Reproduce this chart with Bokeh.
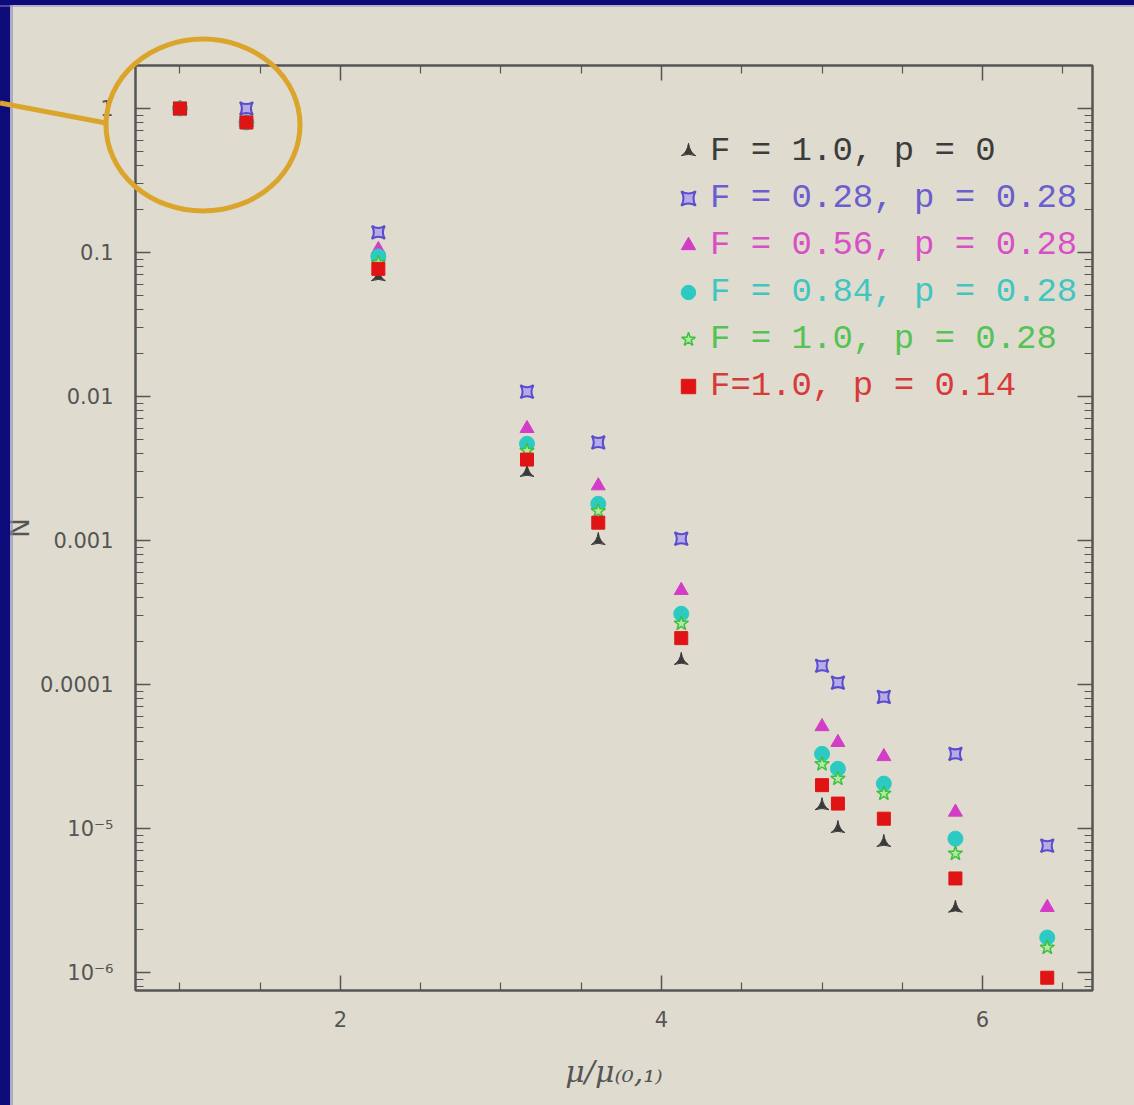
import numpy as np
from bokeh.plotting import figure
from bokeh.models import (Range1d, FixedTicker, LinearAxis, LogAxis, Legend, LegendItem,
                          ColumnDataSource, CustomJSTickFormatter)
from bokeh.embed import file_html
from bokeh.resources import INLINE

W, H = 1134, 1105

# ---------------- data ----------------
mu_ratio = [1.0, 1.414, 2.236, 3.162, 3.606, 4.123, 5.0, 5.099, 5.385, 5.831, 6.403]

series_labels = ["F = 1.0, p = 0", "F = 0.28, p = 0.28", "F = 0.56, p = 0.28",
                 "F = 0.84, p = 0.28", "F = 1.0, p = 0.28", "F=1.0, p = 0.14"]

N_F100_p000 = [1.0, 0.80, 0.068, 0.00297, 0.00100, 0.000147, 1.44e-5, 1.0e-5, 8.0e-6, 2.8e-6, float("nan")]
N_F028_p028 = [1.0, 1.0, 0.138, 0.0108, 0.0048, 0.00103, 1.35e-4, 1.03e-4, 8.2e-5, 3.3e-5, 7.6e-6]
N_F056_p028 = [1.0, 0.80, 0.105, 0.0060, 0.0024, 0.00045, 5.1e-5, 3.96e-5, 3.16e-5, 1.3e-5, 2.83e-6]
N_F084_p028 = [1.0, 0.80, 0.094, 0.0047, 0.0018, 0.00031, 3.3e-5, 2.6e-5, 2.05e-5, 8.5e-6, 1.75e-6]
N_F100_p028 = [1.0, 0.80, 0.085, 0.0042, 0.0016, 0.000265, 2.8e-5, 2.22e-5, 1.75e-5, 6.7e-6, 1.49e-6]
N_F100_p014 = [1.0, 0.80, 0.077, 0.00365, 0.00133, 0.00021, 2.0e-5, 1.49e-5, 1.17e-5, 4.5e-6, 9.2e-7]

series_values = [N_F100_p000, N_F028_p028, N_F056_p028, N_F084_p028, N_F100_p028, N_F100_p014]

x_major_ticks = [2, 4, 6]
x_minor_ticks = [1.0, 1.5, 2.5, 3.0, 3.5, 4.5, 5.0, 5.5, 6.5]
y_major_ticks = [1.0, 0.1, 0.01, 0.001, 0.0001, 1e-5, 1e-6]
y_tick_labels = ["1", "0.1", "0.01", "0.001", "0.0001", "10\u207b\u2075", "10\u207b\u2076"]
x_label = "\u03bc/\u03bc\u208d\u2080,\u2081\u208e"
y_label = "N"

# ---------------- styles ----------------
BG = "#dfdccf"
NAVY = "#0d0a7a"
GOLD = "#dba42b"
AX = "#555555"

marker_styles = [
    dict(marker="triangle_pin", size=14, fill_color="#3a3a3a", line_color="#3a3a3a", line_width=1),
    dict(marker="square_pin", size=13, fill_color="#b4abe8", line_color="#5a4ccc", line_width=2),
    dict(marker="triangle", size=14, fill_color="#d43cc8", line_color="#d43cc8", line_width=1),
    dict(marker="circle", size=15, fill_color="#2dcac4", line_color="#2dcac4", line_width=1),
    dict(marker="star", size=15, fill_color="#b5e8a8", line_color="#3cc23c", line_width=1.5),
    dict(marker="square", size=13, fill_color="#e01414", line_color="#e01414", line_width=1),
]
text_colors = ["#3c3c3c", "#6a5ed0", "#d950c6", "#3fc6c0", "#55c255", "#d83a3a"]

FRAME_L, FRAME_R, FRAME_T, FRAME_B = 135, 1092, 65, 990

p = figure(width=W, height=H,
           x_range=Range1d(0.723, 6.685), y_range=Range1d(7.5e-7, 1.99),
           y_axis_type="log", output_backend="svg", toolbar_location=None,
           min_border_left=FRAME_L, min_border_right=W - FRAME_R,
           min_border_top=FRAME_T, min_border_bottom=H - FRAME_B,
           background_fill_color=BG, border_fill_color=BG)
p.xgrid.visible = False
p.ygrid.visible = False
p.outline_line_color = AX
p.outline_line_width = 2

y_minor = [k * 10.0 ** e for e in range(-7, 1) for k in range(2, 10)]
y_overrides = {v: s for v, s in zip(y_major_ticks, y_tick_labels)}


def style_axis(ax):
    ax.axis_line_color = AX
    ax.axis_line_width = 2
    ax.major_tick_line_color = AX
    ax.minor_tick_line_color = AX
    ax.major_tick_line_width = 1.5
    ax.minor_tick_line_width = 1.2
    ax.major_tick_in = 15
    ax.major_tick_out = 0
    ax.minor_tick_in = 8
    ax.minor_tick_out = 0
    ax.major_label_text_font = "DejaVu Sans"
    ax.major_label_text_font_size = "21px"
    ax.major_label_text_color = "#555555"


# bottom
xa = p.xaxis[0]
xa.ticker = FixedTicker(ticks=x_major_ticks, minor_ticks=x_minor_ticks)
style_axis(xa)
xa.major_label_standoff = 20
xa.axis_label = x_label
xa.axis_label_text_font = "DejaVu Serif"
xa.axis_label_text_font_style = "italic"
xa.axis_label_text_font_size = "30px"
xa.axis_label_text_color = "#555555"
xa.axis_label_standoff = 24
# left
ya = p.yaxis[0]
ya.ticker = FixedTicker(ticks=y_major_ticks, minor_ticks=y_minor)
ya.major_label_overrides = y_overrides
style_axis(ya)
ya.major_label_standoff = 22
ya.axis_label = y_label
ya.axis_label_text_font = "DejaVu Sans"
ya.axis_label_text_font_style = "normal"
ya.axis_label_text_font_size = "26px"
ya.axis_label_text_color = "#555555"
ya.axis_label_standoff = 2

# top & right mirrored axes (ticks only)
top = LinearAxis(ticker=FixedTicker(ticks=x_major_ticks, minor_ticks=x_minor_ticks),
                 formatter=CustomJSTickFormatter(code="return ''"))
style_axis(top)
top.major_label_standoff = 0
p.add_layout(top, "above")
right = LogAxis(ticker=FixedTicker(ticks=y_major_ticks, minor_ticks=y_minor),
                formatter=CustomJSTickFormatter(code="return ''"))
style_axis(right)
right.major_label_standoff = 0
p.add_layout(right, "right")

# ---------------- data marks ----------------
x_arr = np.array(mu_ratio, dtype=float)
renderers = []
for vals, st in zip(series_values, marker_styles):
    src = ColumnDataSource(dict(x=x_arr, y=np.array(vals, dtype=float)))
    r = p.scatter("x", "y", source=src, **st)
    renderers.append(r)

# ---------------- legend (one per row so each text keeps its colour) ----------------
row_centers = [151, 198, 245, 292, 339, 386]
for r, lab, tc, yc in zip(renderers, series_labels, text_colors, row_centers):
    leg = Legend(items=[LegendItem(label=lab, renderers=[r])],
                 location=(670 - FRAME_L, (FRAME_B - yc) - 20),
                 padding=0, margin=0, spacing=0,
                 glyph_width=36, glyph_height=40, label_height=40, label_standoff=4,
                 label_text_font="Liberation Mono", label_text_font_size="34px",
                 label_text_color=tc,
                 background_fill_alpha=0, border_line_color=None)
    p.add_layout(leg)

html = file_html(p, INLINE)

# ---------------- slide decorations (photo border + highlight circle) ----------------
overlay = (
    f'<svg xmlns="http://www.w3.org/2000/svg" width="{W}" height="{H}" '
    'style="position:fixed;left:0;top:0;pointer-events:none;z-index:50">'
    f'<rect x="0" y="0" width="10" height="{H}" fill="{NAVY}"/>'
    f'<rect x="10" y="0" width="3" height="{H}" fill="#8e89bd" fill-opacity="0.6"/>'
    f'<rect x="0" y="0" width="{W}" height="5" fill="{NAVY}"/>'
    f'<rect x="0" y="5" width="{W}" height="2" fill="#8e89bd" fill-opacity="0.5"/>'
    f'<ellipse cx="203" cy="125" rx="97" ry="86" fill="none" stroke="{GOLD}" stroke-width="5"/>'
    f'<line x1="0" y1="103" x2="106" y2="123" stroke="{GOLD}" stroke-width="5"/>'
    '</svg>'
)
html = html.replace("</body>", overlay + "</body>", 1)

open("out.html", "w").write(html)
